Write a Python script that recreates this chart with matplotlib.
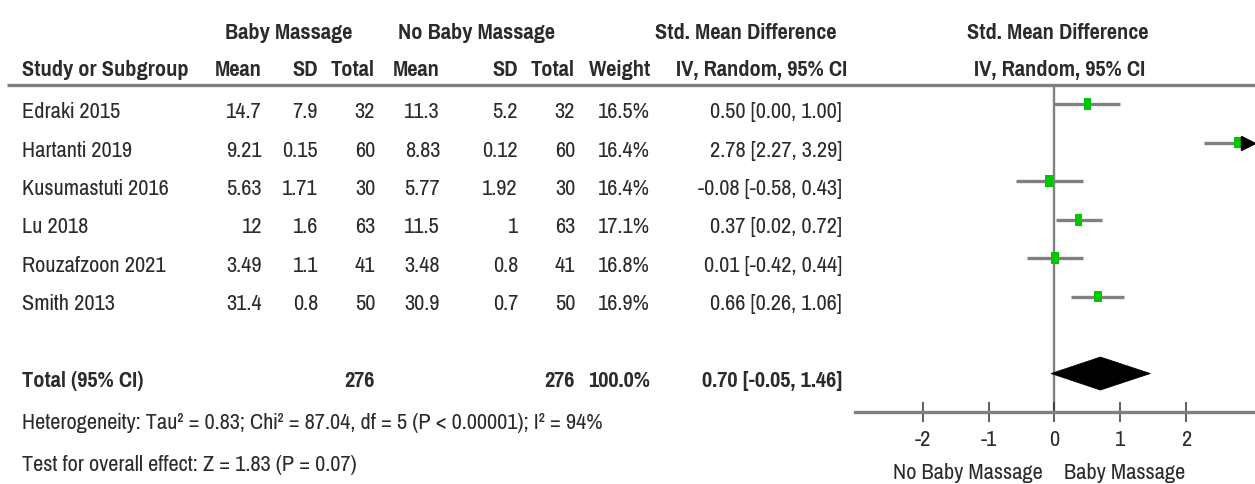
import matplotlib
matplotlib.use("Agg")
import matplotlib.pyplot as plt
from matplotlib import font_manager
from matplotlib.transforms import blended_transform_factory
from matplotlib.patches import Polygon
import numpy as np

# ---- study data -----------------------------------------------------------
studies = ["Edraki 2015", "Hartanti 2019", "Kusumastuti 2016", "Lu 2018",
           "Rouzafzoon 2021", "Smith 2013"]
mean_bm = [14.7, 9.21, 5.63, 12, 3.49, 31.4]
sd_bm = [7.9, 0.15, 1.71, 1.6, 1.1, 0.8]
n_bm = [32, 60, 30, 63, 41, 50]
mean_nbm = [11.3, 8.83, 5.77, 11.5, 3.48, 30.9]
sd_nbm = [5.2, 0.12, 1.92, 1, 0.8, 0.7]
n_nbm = [32, 60, 30, 63, 41, 50]
weights = [16.5, 16.4, 16.4, 17.1, 16.8, 16.9]
smd = [0.50, 2.78, -0.08, 0.37, 0.01, 0.66]
ci_low = [0.00, 2.27, -0.58, 0.02, -0.42, 0.26]
ci_high = [1.00, 3.29, 0.43, 0.72, 0.44, 1.06]

total_bm, total_nbm, total_weight = 276, 276, 100.0
pooled, pooled_low, pooled_high = 0.70, -0.05, 1.46
heterogeneity = "Heterogeneity: Tau² = 0.83; Chi² = 87.04, df = 5 (P < 0.00001); I² = 94%"
overall = "Test for overall effect: Z = 1.83 (P = 0.07)"
x_ticks = [-2, -1, 0, 1, 2]
favours_left, favours_right = "No Baby Massage", "Baby Massage"

# ---- style ----------------------------------------------------------------
available = {f.name for f in font_manager.fontManager.ttflist}
preferred = ["Liberation Sans Narrow", "Arial Narrow", "Pragati Narrow", "Archivo Narrow",
             "Roboto Condensed", "PT Sans Narrow", "IBM Plex Sans Condensed",
             "Fira Sans Condensed", "Sofia Sans Condensed", "Liberation Sans"]
family = next(f for f in preferred if f in available)
plt.rcParams["font.family"] = [family, "DejaVu Sans"]
FS = 17.5
TXT = "#2b2b2b"
GRAY = "#808080"
GREEN = "#00c800"

W, H = 1255, 484
fig = plt.figure(figsize=(W / 100, H / 100), dpi=100)

# full-figure layer for the table (pixel units)
ax_t = fig.add_axes([0, 0, 1, 1])
ax_t.set_xlim(0, W)
ax_t.set_ylim(H, 0)
ax_t.axis("off")

# forest plot panel
top_px, axis_px, left_px = 85, 412, 855
ax_f = fig.add_axes([left_px / W, 1 - axis_px / H, (W - left_px) / W, (axis_px - top_px) / H])
xmin, xmax = -3.03, 3.05
ax_f.set_xlim(xmin, xmax)
ax_f.set_ylim(8, -0.5)
ax_f.patch.set_visible(False)
for s in ("top", "left", "right"):
    ax_f.spines[s].set_visible(False)
ax_f.spines["bottom"].set_color(GRAY)
ax_f.spines["bottom"].set_linewidth(2.4)
ax_f.set_yticks([])
ax_f.set_xticks(x_ticks)
ax_f.set_xticklabels([f"{t:d}" for t in x_ticks])
ax_f.tick_params(axis="x", direction="inout", length=14, width=1.1, color="#333333",
                 labelsize=FS, labelcolor=TXT, pad=6)

rows = np.arange(len(studies))
total_row = len(studies) + 1

# line of no effect
ax_f.axvline(0, color=GRAY, lw=1.7, zorder=1)

# confidence intervals, clipped at the panel edge with an arrow
arrow_x = 2.95
for r, lo, hi in zip(rows, ci_low, ci_high):
    ax_f.plot([max(lo, xmin), min(hi, arrow_x)], [r, r], color=GRAY, lw=2.4,
              solid_capstyle="butt", zorder=2)
    if hi > arrow_x:
        ax_f.plot(arrow_x, r, marker=">", ms=10, color="black", clip_on=False, zorder=4)

# weighted squares (taller than wide)
box = [(-0.32, -0.5), (0.32, -0.5), (0.32, 0.5), (-0.32, 0.5), (-0.32, -0.5)]
sizes = [70 * w / np.mean(weights) for w in weights]
ax_f.scatter(smd, rows, marker=box, s=sizes, color=GREEN, linewidths=0, zorder=3)

# pooled diamond
hh = 0.43
ax_f.add_patch(Polygon([(pooled_low, total_row), (pooled, total_row - hh),
                        (pooled_high, total_row), (pooled, total_row + hh)],
                       closed=True, fc="black", ec="black", lw=0.5, zorder=3))

# favours labels below the axis
tr_fav = blended_transform_factory(ax_f.transData, ax_t.transData)
ax_t.text(-0.17, 479, favours_left, transform=tr_fav, ha="right", va="baseline",
          fontsize=FS, color=TXT)
ax_t.text(0.14, 479, favours_right, transform=tr_fav, ha="left", va="baseline",
          fontsize=FS, color=TXT)

# ---- table text -----------------------------------------------------------
tr_row = blended_transform_factory(ax_t.transData, ax_f.transData)
off = 0.36  # baseline offset in row units

def cell(x, r, s, ha="right", bold=False):
    ax_t.text(x, r + off, s, transform=tr_row, ha=ha, va="baseline", fontsize=FS,
              color=TXT, fontweight="bold" if bold else "normal")

col_x = dict(name=22, m1=262, s1=318, n1=375, m2=440, s2=518, n2=575, w=650, ci=842)

for r, i in zip(rows, range(len(studies))):
    cell(col_x["name"], r, studies[i], ha="left")
    cell(col_x["m1"], r, f"{mean_bm[i]:g}")
    cell(col_x["s1"], r, f"{sd_bm[i]:g}")
    cell(col_x["n1"], r, f"{n_bm[i]:d}")
    cell(col_x["m2"], r, f"{mean_nbm[i]:g}")
    cell(col_x["s2"], r, f"{sd_nbm[i]:g}")
    cell(col_x["n2"], r, f"{n_nbm[i]:d}")
    cell(col_x["w"], r, f"{weights[i]:.1f}%")
    cell(col_x["ci"], r, f"{smd[i]:.2f} [{ci_low[i]:.2f}, {ci_high[i]:.2f}]")

cell(col_x["name"], total_row, "Total (95% CI)", ha="left", bold=True)
cell(col_x["n1"], total_row, f"{total_bm:d}", bold=True)
cell(col_x["n2"], total_row, f"{total_nbm:d}", bold=True)
cell(col_x["w"], total_row, f"{total_weight:.1f}%", bold=True)
cell(col_x["ci"], total_row, f"{pooled:.2f} [{pooled_low:.2f}, {pooled_high:.2f}]", bold=True)

ax_t.text(22, 429, heterogeneity, ha="left", va="baseline", fontsize=FS, color=TXT)
ax_t.text(22, 471, overall, ha="left", va="baseline", fontsize=FS, color=TXT)

# ---- headers --------------------------------------------------------------
def head(x, y, s, ha="center"):
    ax_t.text(x, y, s, ha=ha, va="baseline", fontsize=FS, color=TXT, fontweight="bold")

h1, h2 = 39, 76
head(289, h1, "Baby Massage")
head(476, h1, "No Baby Massage")
head(746, h1, "Std. Mean Difference")
head(1058, h1, "Std. Mean Difference")
head(22, h2, "Study or Subgroup", ha="left")
head(col_x["m1"], h2, "Mean", ha="right")
head(col_x["s1"], h2, "SD", ha="right")
head(col_x["n1"], h2, "Total", ha="right")
head(col_x["m2"], h2, "Mean", ha="right")
head(col_x["s2"], h2, "SD", ha="right")
head(col_x["n2"], h2, "Total", ha="right")
head(col_x["w"], h2, "Weight", ha="right")
head(762, h2, "IV, Random, 95% CI")
head(1060, h2, "IV, Random, 95% CI")

ax_t.plot([7, W], [top_px, top_px], color=GRAY, lw=2.4, solid_capstyle="butt")

fig.savefig("out.png", dpi=100, facecolor="white")
